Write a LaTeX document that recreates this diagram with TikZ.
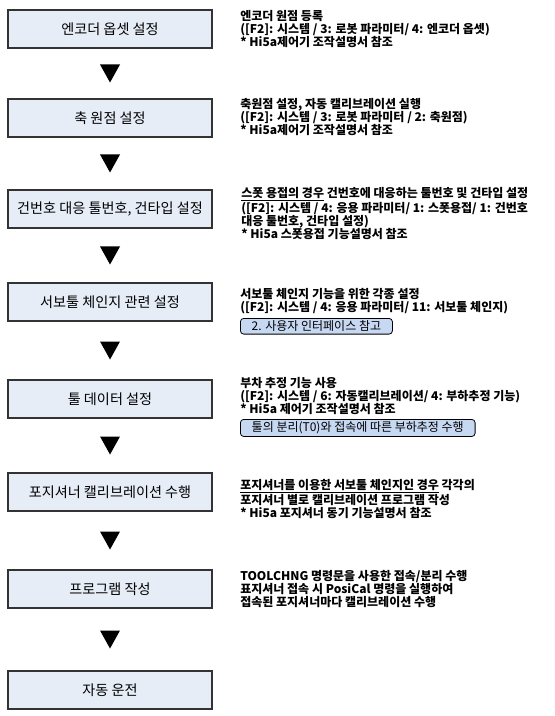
\documentclass[tikz,border=0pt]{standalone}
\usepackage{fontspec}
\setmainfont{Noto Sans CJK KR}
\usepackage{tikz}
\usetikzlibrary{positioning,calc}
\definecolor{boxblue}{HTML}{E6EDF7}
\definecolor{tagblue}{HTML}{C6D8F2}
\newcommand{\notefont}{\fontsize{9}{9.7}\selectfont\bfseries}

\begin{document}
\begin{tikzpicture}[
    x=0.75pt, y=-0.75pt,
    font=\fontsize{10.6}{12}\selectfont,
    stepbox/.style={
        draw=black!80,
        line width=0.8pt,
        fill=boxblue,
        minimum width=153pt,
        minimum height=28.5pt,
        align=center
    },
    note/.style={
        anchor=north west,
        inner sep=0pt,
        align=left,
        font=\notefont
    },
    tag/.style={
        draw=black,
        line width=0.6pt,
        rounded corners=2.5pt,
        fill=tagblue,
        anchor=north west,
        inner xsep=8.5pt,
        inner ysep=1.8pt,
        font=\fontsize{9}{9.5}\selectfont
    },
    tri/.style={fill=black}
]
\useasboundingbox (0,0) rectangle (555,716);

% flow boxes
\node[stepbox] (enc)  at (110,29)  {엔코더 옵셋 설정};
\node[stepbox] (axis) at (110,118) {축 원점 설정};
\node[stepbox] (gun)  at (110,209) {건번호 대응 툴번호, 건타입 설정};
\node[stepbox] (servo) at (110,302) {서보툴 체인지 관련 설정};
\node[stepbox] (tool) at (110,399) {툴 데이터 설정};
\node[stepbox] (posi) at (110,492) {포지셔너 캘리브레이션 수행};
\node[stepbox] (prog) at (110,589) {프로그램 작성};
\node[stepbox] (auto) at (110,690) {자동 운전};

% triangles between boxes
\foreach \a/\b in {enc/axis,axis/gun,gun/servo,servo/tool,tool/posi,posi/prog,prog/auto}
  \fill[tri] ($(\a.south)!0.5!(\b.north)$) ++(-10,-9) -- ++(20,0) -- ++(-10,18) -- cycle;

% side notes
\node[note] (encnote) at (240,10)
{엔코더 원점 등록\\
([F2]: 시스템 / 3: 로봇 파라미터/ 4: 엔코더 옵셋)\\
* Hi5a제어기 조작설명서 참조};

\node[note] (axisnote) at (240,98)
{축원점 설정, 자동 캘리브레이션 실행\\
([F2]: 시스템 / 3: 로봇 파라미터 / 2: 축원점)\\
* Hi5a제어기 조작설명서 참조};

\node[note] (gunnote) at (241,187)
{\underline{스폿 용접의 경우} 건번호에 대응하는 툴번호 및 건타입 설정\\
([F2]: 시스템 / 4: 응용 파라미터/ 1: 스폿용접/ 1: 건번호\\
대응 툴번호, 건타입 설정)\\
* Hi5a 스폿용접 기능설명서 참조};

\node[note] (servonote) at (240,288)
{서보툴 체인지 기능을 위한 각종 설정\\
([F2]: 시스템 / 4: 응용 파라미터/ 11: 서보툴 체인지)};
\node[tag] (servotag) at (240,318) {2. 사용자 인터페이스 참고};

\node[note] (toolnote) at (240,377)
{부차 추정 기능 사용\\
([F2]: 시스템 / 6: 자동캘리브레이션/ 4: 부하추정 기능)\\
* Hi5a 제어기 조작설명서 참조};
\node[tag] (tooltag) at (240,419) {툴의 분리(T0)와 접속에 따른 부하추정 수행};

\node[note] (posinote) at (240,479)
{\underline{포지셔너를 이용한 서보툴 체인지인 경우} 각각의\\
포지셔너 별로 캘리브레이션 프로그램 작성\\
* Hi5a 포지셔너 동기 기능설명서 참조};

\node[note] (prognote) at (240,570)
{TOOLCHNG 명령문을 사용한 접속/분리 수행\\
표지셔너 접속 시 PosiCal 명령을 실행하여\\
접속된 포지셔너마다 캘리브레이션 수행};

\end{tikzpicture}
\end{document}
